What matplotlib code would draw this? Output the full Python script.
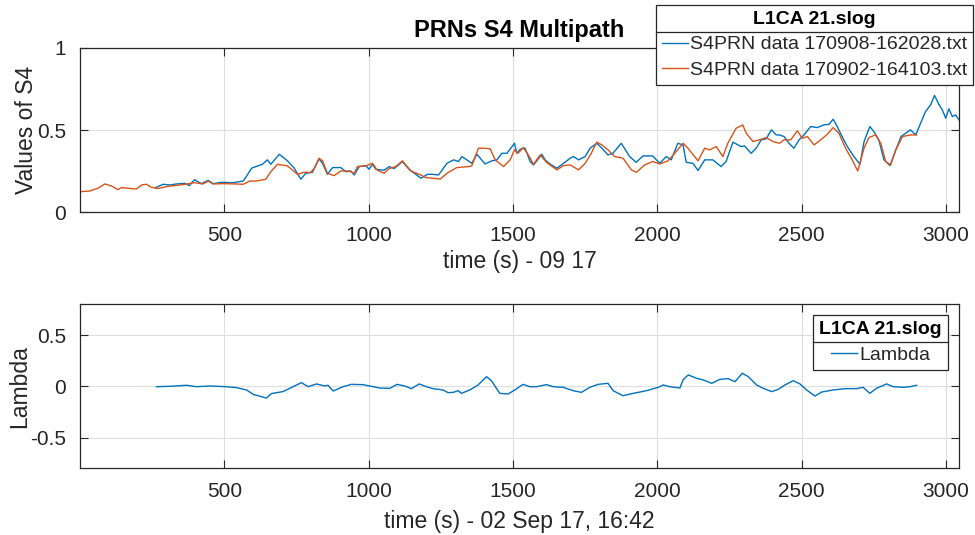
"""
PRNs S4 multipath comparison plot (S4 values and Lambda over time).
"""

import matplotlib.pyplot as plt
from matplotlib.lines import Line2D

plt.rcParams["font.family"] = ["Liberation Sans", "DejaVu Sans"]

BLUE = "#0072BD"
ORANGE = "#D95319"
DARK = "#262626"

# S4PRN data 170908-162028.txt
t_blue = [262, 288, 311, 334, 363, 378, 397, 420, 444, 461, 490, 530, 565, 576, 594,
          609, 632, 649, 661, 690, 719, 742, 765, 782, 805, 828, 840, 857, 875, 903,
          921, 938, 950, 967, 990, 1001, 1013, 1025, 1053, 1071, 1088, 1117, 1140,
          1181, 1204, 1219, 1242, 1271, 1294, 1311, 1323, 1340, 1357, 1375, 1403,
          1427, 1444, 1461, 1479, 1505, 1513, 1525, 1542, 1559, 1571, 1600, 1611,
          1628, 1652, 1675, 1698, 1710, 1727, 1750, 1767, 1790, 1808, 1829, 1846,
          1875, 1904, 1927, 1950, 1984, 2008, 2031, 2048, 2071, 2089, 2100, 2123,
          2141, 2164, 2192, 2221, 2238, 2262, 2290, 2302, 2325, 2342, 2360, 2377,
          2395, 2412, 2423, 2439, 2456, 2473, 2491, 2508, 2531, 2554, 2577, 2595,
          2609, 2623, 2640, 2658, 2681, 2702, 2716, 2736, 2750, 2767, 2785, 2806,
          2826, 2844, 2877, 2895, 2912, 2929, 2947, 2960, 2976, 2987, 2999, 3010,
          3022, 3033, 3045]
s4_blue = [0.149, 0.169, 0.165, 0.171, 0.175, 0.161, 0.197, 0.173, 0.193, 0.173, 0.181,
           0.179, 0.189, 0.216, 0.267, 0.277, 0.291, 0.318, 0.291, 0.352, 0.312, 0.267,
           0.200, 0.236, 0.242, 0.324, 0.297, 0.230, 0.271, 0.271, 0.246, 0.250, 0.226,
           0.277, 0.283, 0.261, 0.291, 0.260, 0.255, 0.277, 0.265, 0.307, 0.260, 0.206,
           0.230, 0.230, 0.226, 0.297, 0.318, 0.308, 0.338, 0.318, 0.297, 0.352, 0.293,
           0.312, 0.318, 0.358, 0.358, 0.419, 0.358, 0.383, 0.389, 0.308, 0.287, 0.352,
           0.318, 0.293, 0.267, 0.297, 0.328, 0.338, 0.318, 0.338, 0.389, 0.419, 0.389,
           0.348, 0.358, 0.419, 0.338, 0.303, 0.342, 0.342, 0.297, 0.338, 0.318, 0.419,
           0.409, 0.303, 0.297, 0.253, 0.318, 0.318, 0.277, 0.308, 0.426, 0.399, 0.403,
           0.358, 0.389, 0.440, 0.446, 0.501, 0.470, 0.470, 0.460, 0.419, 0.389, 0.440,
           0.470, 0.521, 0.515, 0.531, 0.535, 0.566, 0.521, 0.460, 0.399, 0.338, 0.291,
           0.429, 0.521, 0.491, 0.440, 0.318, 0.283, 0.379, 0.460, 0.501, 0.470, 0.542,
           0.613, 0.654, 0.711, 0.654, 0.623, 0.572, 0.629, 0.582, 0.592, 0.562]

# S4PRN data 170902-164103.txt
t_orange = [0, 34, 62, 86, 109, 132, 143, 166, 195, 213, 230, 247, 270, 299, 334, 363,
            397, 426, 444, 461, 496, 542, 565, 588, 609, 643, 661, 684, 719, 753, 776,
            799, 811, 828, 840, 857, 880, 903, 932, 950, 961, 990, 1013, 1030, 1053,
            1071, 1094, 1117, 1146, 1175, 1198, 1219, 1248, 1271, 1305, 1346, 1357,
            1380, 1403, 1421, 1438, 1467, 1490, 1505, 1517, 1536, 1553, 1571, 1594,
            1617, 1652, 1675, 1698, 1727, 1750, 1771, 1790, 1808, 1829, 1852, 1881,
            1910, 1927, 1956, 1984, 2008, 2037, 2060, 2089, 2106, 2129, 2141, 2164,
            2181, 2204, 2227, 2244, 2273, 2296, 2308, 2331, 2354, 2377, 2400, 2423,
            2439, 2462, 2485, 2502, 2520, 2543, 2566, 2589, 2609, 2629, 2652, 2675,
            2694, 2716, 2733, 2756, 2774, 2791, 2808, 2826, 2849, 2877, 2898]
s4_orange = [0.124, 0.128, 0.145, 0.171, 0.159, 0.136, 0.149, 0.145, 0.140, 0.165, 0.169,
             0.151, 0.143, 0.155, 0.163, 0.169, 0.179, 0.171, 0.189, 0.171, 0.173, 0.171,
             0.169, 0.189, 0.189, 0.199, 0.246, 0.291, 0.281, 0.230, 0.242, 0.242, 0.265,
             0.328, 0.312, 0.236, 0.222, 0.250, 0.250, 0.236, 0.277, 0.281, 0.297, 0.255,
             0.236, 0.265, 0.277, 0.312, 0.250, 0.230, 0.210, 0.206, 0.201, 0.236, 0.271,
             0.277, 0.281, 0.389, 0.389, 0.385, 0.318, 0.277, 0.318, 0.379, 0.358, 0.393,
             0.348, 0.291, 0.348, 0.301, 0.257, 0.283, 0.287, 0.257, 0.297, 0.358, 0.426,
             0.409, 0.379, 0.338, 0.328, 0.257, 0.242, 0.287, 0.308, 0.293, 0.312, 0.358,
             0.419, 0.389, 0.338, 0.312, 0.389, 0.379, 0.399, 0.338, 0.419, 0.511, 0.531,
             0.480, 0.430, 0.440, 0.454, 0.430, 0.419, 0.440, 0.440, 0.495, 0.450, 0.460,
             0.409, 0.440, 0.474, 0.515, 0.480, 0.389, 0.318, 0.250, 0.389, 0.454, 0.470,
             0.419, 0.308, 0.287, 0.379, 0.460, 0.470, 0.470]

# Lambda
t_lambda = [265, 311, 369, 404, 449, 507, 542, 577, 600, 646, 663, 703, 738, 767, 790,
            819, 848, 859, 877, 911, 940, 980, 1004, 1038, 1073, 1098, 1125, 1148, 1175,
            1200, 1223, 1258, 1275, 1293, 1310, 1321, 1350, 1379, 1408, 1425, 1454, 1483,
            1506, 1535, 1558, 1581, 1616, 1639, 1674, 1708, 1737, 1766, 1795, 1829, 1847,
            1881, 1916, 1962, 2003, 2020, 2043, 2078, 2089, 2107, 2136, 2159, 2188, 2217,
            2245, 2269, 2294, 2315, 2344, 2367, 2396, 2419, 2442, 2471, 2494, 2517, 2546,
            2569, 2609, 2650, 2690, 2713, 2736, 2759, 2794, 2817, 2852, 2875, 2898]
lambda_vals = [-0.004, 0.0, 0.010, -0.004, 0.003, -0.004, -0.013, -0.036, -0.079, -0.115,
               -0.071, -0.052, -0.004, 0.036, -0.004, 0.023, 0.003, 0.010, -0.046, -0.004,
               0.019, 0.016, 0.003, -0.017, -0.020, 0.019, 0.003, -0.023, 0.023, -0.004,
               -0.023, -0.036, -0.062, -0.059, -0.043, -0.069, -0.036, 0.013, 0.094, 0.055,
               -0.069, -0.075, -0.036, 0.019, -0.004, -0.004, 0.016, -0.004, -0.010, -0.043,
               -0.059, -0.010, 0.019, 0.029, -0.043, -0.092, -0.069, -0.043, -0.010, 0.013,
               -0.004, -0.017, 0.062, 0.111, 0.078, 0.062, 0.029, 0.068, 0.075, 0.045,
               0.127, 0.094, 0.013, -0.020, -0.052, -0.030, 0.013, 0.055, 0.023, -0.036,
               -0.095, -0.056, -0.036, -0.023, -0.023, -0.010, -0.069, -0.020, 0.023,
               -0.004, -0.010, -0.004, 0.010]

x_ticks = [500, 1000, 1500, 2000, 2500, 3000]


def style_axes(ax):
    ax.grid(True, color="#dedede", linewidth=0.8)
    ax.set_axisbelow(True)
    ax.tick_params(direction="in", length=6, width=0.8, colors=DARK,
                   labelsize=15, top=True, right=True, pad=10)
    for spine in ax.spines.values():
        spine.set_color(DARK)
        spine.set_linewidth(0.9)


def add_legend(fig, ax, anchor):
    leg = ax.legend(title="L1CA 21.slog", loc="upper right", bbox_to_anchor=anchor,
                    bbox_transform=fig.transFigure, fontsize=14,
                    title_fontproperties={"weight": "bold", "size": 14},
                    fancybox=False, framealpha=1, edgecolor=DARK,
                    handlelength=1.35, handletextpad=0.1, labelspacing=0.42,
                    borderpad=0.3, borderaxespad=0)
    leg.get_frame().set_linewidth(0.9)
    for text in leg.get_texts():
        text.set_color(DARK)
    return leg


fig = plt.figure(figsize=(9.75, 5.35), dpi=100)
ax_top = fig.add_axes([0.0821, 0.6037, 0.9015, 0.3066])
ax_bot = fig.add_axes([0.0821, 0.1247, 0.9015, 0.3065])

# upper panel: S4 values
ax_top.plot(t_blue, s4_blue, color=BLUE, linewidth=1.0, label="S4PRN data 170908-162028.txt")
ax_top.plot(t_orange, s4_orange, color=ORANGE, linewidth=1.0, label="S4PRN data 170902-164103.txt")
ax_top.set_xlim(0, 3045)
ax_top.set_ylim(0, 1)
ax_top.set_xticks(x_ticks)
ax_top.set_yticks([0, 0.5, 1])
ax_top.set_yticklabels(["0", "0.5", "1"])
ax_top.set_xlabel("time (s) - 09 17", fontsize=16.5, color=DARK, labelpad=4)
ax_top.set_ylabel("Values of S4", fontsize=16.5, color=DARK, labelpad=-1)
ax_top.set_title("PRNs S4 Multipath", fontsize=17, fontweight="bold", pad=8)
style_axes(ax_top)

# lower panel: Lambda
ax_bot.plot(t_lambda, lambda_vals, color=BLUE, linewidth=1.0, label="Lambda")
ax_bot.set_xlim(0, 3045)
ax_bot.set_ylim(-0.8, 0.8)
ax_bot.set_xticks(x_ticks)
ax_bot.set_yticks([-0.5, 0, 0.5])
ax_bot.set_yticklabels(["-0.5", "0", "0.5"])
ax_bot.set_xlabel("time (s) - 02 Sep 17, 16:42", fontsize=16.5, color=DARK, labelpad=6)
ax_bot.set_ylabel("Lambda", fontsize=16.5, color=DARK, labelpad=-1)
style_axes(ax_bot)

leg_top = add_legend(fig, ax_top, (0.998, 0.991))
leg_bot = add_legend(fig, ax_bot, (0.972, 0.411))

# MATLAB style separator line under each legend title
fig.canvas.draw()
renderer = fig.canvas.get_renderer()
for leg in (leg_top, leg_bot):
    frame = leg.get_frame().get_window_extent(renderer)
    title_box = leg._legend_title_box.get_window_extent(renderer)
    handle_box = leg._legend_handle_box.get_window_extent(renderer)
    y_sep = (title_box.y0 + handle_box.y1) / 2
    x0, x1 = fig.transFigure.inverted().transform([(frame.x0, y_sep), (frame.x1, y_sep)])
    fig.add_artist(Line2D([x0[0], x1[0]], [x0[1], x0[1]], color=DARK,
                          linewidth=0.9, transform=fig.transFigure, zorder=10))

fig.savefig("out.png", dpi=100)
